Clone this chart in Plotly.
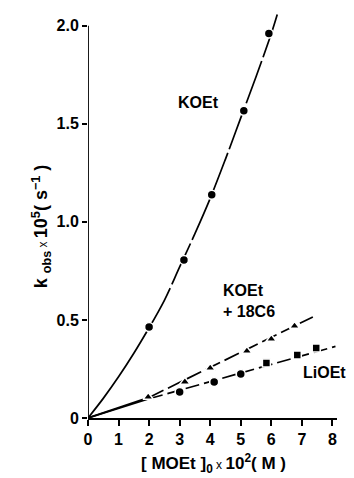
import plotly.graph_objects as go

# Measured data points
koet_x = [2.0, 3.14, 4.05, 5.1, 5.92]
koet_y = [0.464, 0.806, 1.138, 1.566, 1.96]

crown_x = [1.97, 3.17, 4.0, 5.2, 6.0, 6.76]
crown_y = [0.107, 0.184, 0.255, 0.342, 0.403, 0.469]

li_circ_x = [3.0, 4.13, 5.0]
li_circ_y = [0.133, 0.184, 0.224]
li_sq_x = [5.84, 6.85, 7.47]
li_sq_y = [0.281, 0.321, 0.357]

# Fitted curves
koet_fit_x = [0, 0.5, 1, 1.5, 2.0, 2.5, 3.0, 3.5, 4.0, 4.5, 5.0, 5.5, 6.0, 6.2]
koet_fit_y = [0, 0.10, 0.21, 0.33, 0.46, 0.60, 0.77, 0.94, 1.12, 1.32, 1.53, 1.74, 1.96, 2.06]
crown_fit_x = [0, 2.0, 7.36]
crown_fit_y = [0, 0.105, 0.515]
li_fit_x = [0, 2.0, 8.1]
li_fit_y = [0, 0.098, 0.365]

x_ticks = [0, 1, 2, 3, 4, 5, 6, 7, 8]
y_ticks = [0, 0.5, 1.0, 1.5, 2.0]
y_tick_text = ["0", "0.5", "1.0", "1.5", "2.0"]

FONT = "Liberation Sans, Arial, sans-serif"
LW = 1.7

fig = go.Figure()

def add_line(xs, ys, dash):
    fig.add_trace(go.Scatter(x=xs, y=ys, mode="lines",
                             line=dict(color="black", width=LW, dash=dash, shape="spline"),
                             showlegend=False, hoverinfo="skip"))

# KOEt curve: solid to x=2, long dashes beyond
add_line(koet_fit_x[:5], koet_fit_y[:5], "solid")
add_line(koet_fit_x[4:], koet_fit_y[4:], "45px,4px")
# KOEt + 18C6
add_line(crown_fit_x[:2], crown_fit_y[:2], "solid")
add_line(crown_fit_x[1:], crown_fit_y[1:], "16px,5px")
# LiOEt
add_line(li_fit_x[:2], li_fit_y[:2], "solid")
add_line(li_fit_x[1:], li_fit_y[1:], "14px,5px")

def add_markers(xs, ys, symbol, size):
    fig.add_trace(go.Scatter(x=xs, y=ys, mode="markers",
                             marker=dict(symbol=symbol, size=size, color="black",
                                         line=dict(color="white", width=1.5)),
                             showlegend=False, cliponaxis=False))

add_markers(koet_x, koet_y, "circle", 9)
add_markers(crown_x, crown_y, "triangle-up", 9)
add_markers(li_circ_x, li_circ_y, "circle", 9)
add_markers(li_sq_x, li_sq_y, "square", 8)

# Y axis line (ends at 2.0)
fig.add_shape(type="line", x0=0, x1=0, y0=0, y1=2.0, xref="x", yref="y",
              line=dict(color="black", width=1.8))

# Curve labels
lab = dict(showarrow=False, font=dict(family=FONT, size=16, color="black"), xref="x", yref="y")
fig.add_annotation(x=3.63, y=1.607, text="<b>KOEt</b>", **lab)
fig.add_annotation(x=4.35, y=0.597, text="<b>KOEt<br>+ 18C6</b>", xanchor="left", align="left", **lab)
fig.add_annotation(x=6.98, y=0.23, text="<b>LiOEt</b>", xanchor="left", **lab)

# Axis titles
fig.add_annotation(xref="paper", yref="paper", x=-0.247, y=0.47,
                   text="<b>k <sub>obs</sub></b><span style='font-size:12px'> x </span><b>10<sup>5</sup>( s<sup>−1</sup> )</b>",
                   textangle=-90, showarrow=False,
                   font=dict(family=FONT, size=18, color="black"))
fig.add_annotation(xref="paper", yref="paper", x=0.505, y=-0.075, yanchor="top",
                   text="<b>[ MOEt ]<sub>0</sub></b><span style='font-size:12px'> x </span><b>10<sup>2</sup>( M )</b>",
                   showarrow=False,
                   font=dict(family=FONT, size=17, color="black"))

fig.update_layout(
    width=354, height=478,
    margin=dict(l=88, r=17, t=10, b=60),
    paper_bgcolor="white", plot_bgcolor="white",
    font=dict(family=FONT, color="black"),
    showlegend=False,
)
fig.update_xaxes(range=[0, 8.15], tickvals=x_ticks, ticktext=[f"<b>{v}</b>" for v in x_ticks],
                 ticks="outside", ticklen=6, tickwidth=1.5, tickcolor="black",
                 showline=True, linecolor="black", linewidth=2, showgrid=False, zeroline=False,
                 tickfont=dict(size=16, family=FONT))
fig.update_yaxes(range=[0, 2.08], tickvals=y_ticks, ticktext=[f"<b>{t}</b>" for t in y_tick_text],
                 ticks="outside", ticklen=5, tickwidth=1.5, tickcolor="black",
                 showline=False, showgrid=False, zeroline=False,
                 tickfont=dict(size=16, family=FONT))

fig.write_html("out.html")
